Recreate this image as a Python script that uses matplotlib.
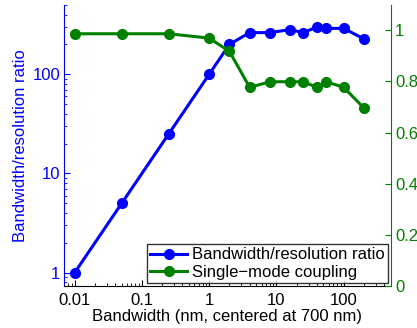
import matplotlib

matplotlib.use("Agg")
import matplotlib.pyplot as plt
from matplotlib.ticker import FixedLocator, FixedFormatter, LogLocator, NullFormatter

plt.rcParams["font.family"] = ["Liberation Sans", "DejaVu Sans"]
plt.rcParams["font.size"] = 12

bandwidth = [0.01, 0.05, 0.25, 1, 2, 4, 8, 16, 25, 40, 55, 100, 200]
ratio = [1, 5, 25, 100, 200, 263, 263, 282, 263, 299, 290, 290, 227]
coupling = [0.987, 0.987, 0.987, 0.970, 0.918, 0.777, 0.799, 0.799, 0.799, 0.777, 0.799, 0.777, 0.696]

x_ticks = [0.01, 0.1, 1, 10, 100]
x_labels = ["0.01", "0.1", "1", "10", "100"]
left_ticks = [1, 10, 100]
left_labels = ["1", "10", "100"]
right_ticks = [0, 0.2, 0.4, 0.6, 0.8, 1]
right_labels = ["0", "0.2", "0.4", "0.6", "0.8", "1"]

blue = (0, 0, 1)
green = (0, 0.5, 0)

fig = plt.figure(figsize=(4.17, 3.28), dpi=100)
ax = fig.add_axes([0.154, 0.129, 0.783, 0.856])
ax2 = ax.twinx()

l1, = ax.plot(bandwidth, ratio, "-o", color=blue, lw=2.2, ms=7,
              label="Bandwidth/resolution ratio")
l2, = ax2.plot(bandwidth, coupling, "-o", color=green, lw=2.2, ms=7,
               label="Single\u2212mode coupling")

ax.set_xscale("log")
ax.set_yscale("log")
ax.set_xlim(0.007, 500)
ax.set_ylim(0.74, 500)
ax2.set_ylim(0, 1.1)

ax.xaxis.set_major_locator(FixedLocator(x_ticks))
ax.xaxis.set_major_formatter(FixedFormatter(x_labels))
ax.xaxis.set_minor_locator(LogLocator(base=10, subs=range(2, 10), numticks=20))
ax.xaxis.set_minor_formatter(NullFormatter())
ax.yaxis.set_major_locator(FixedLocator(left_ticks))
ax.yaxis.set_major_formatter(FixedFormatter(left_labels))
ax.yaxis.set_minor_locator(LogLocator(base=10, subs=range(2, 10), numticks=20))
ax.yaxis.set_minor_formatter(NullFormatter())
ax2.yaxis.set_major_locator(FixedLocator(right_ticks))
ax2.yaxis.set_major_formatter(FixedFormatter(right_labels))

for a in (ax, ax2):
    a.spines["top"].set_visible(False)
ax2.spines["left"].set_visible(False)
ax2.spines["bottom"].set_visible(False)
ax.spines["right"].set_visible(False)
ax.spines["left"].set_color(blue)
ax2.spines["right"].set_color(green)

ax.tick_params(axis="x", which="both", direction="in", top=False)
ax.tick_params(axis="x", which="major", length=4, pad=5)
ax.tick_params(axis="x", which="minor", length=2)
ax.tick_params(axis="y", which="both", direction="in", colors=blue)
ax.tick_params(axis="y", which="major", length=4, pad=3)
ax.tick_params(axis="y", which="minor", length=2)
ax2.tick_params(axis="y", direction="in", colors=green, length=4, pad=3)

ax.set_xlabel("Bandwidth (nm, centered at 700 nm)", labelpad=1)
ax.set_ylabel("Bandwidth/resolution ratio", color=blue, labelpad=3)

leg = ax2.legend(handles=[l1, l2], loc="lower right", frameon=True, fancybox=False,
                 edgecolor="black", borderaxespad=0.15, handlelength=2.2,
                 handletextpad=0.3, borderpad=0.2, labelspacing=0.15)
leg.get_frame().set_linewidth(1.0)

fig.savefig("out.png", dpi=100)
